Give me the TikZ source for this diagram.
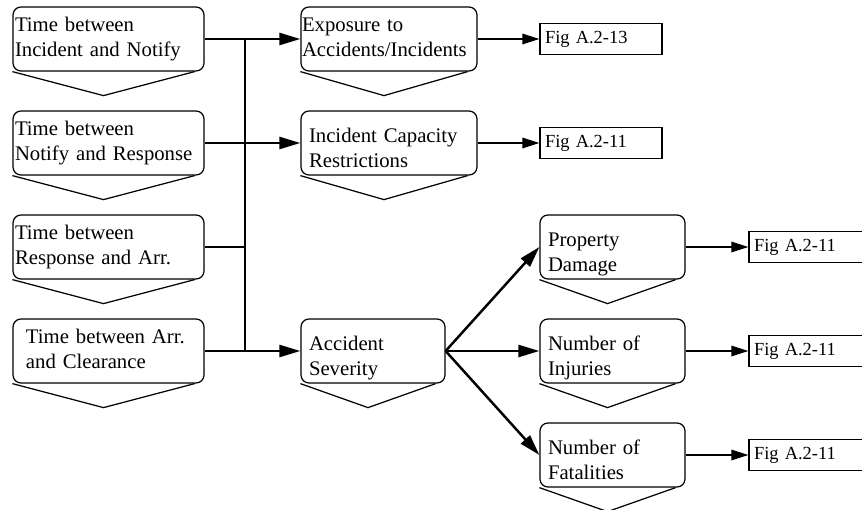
\documentclass[tikz,border=0pt]{standalone}
\usepackage{fontspec}
\setmainfont{Liberation Serif}
\usetikzlibrary{arrows.meta}

\tikzset{
  factor/.style 2 args={draw, line width=0.7pt, rounded corners=0.16cm, align=left,
    text width=#1, inner xsep=#2, inner ysep=0pt,
    text height=0.49cm, text depth=0.79cm,
    font=\fontsize{11.8}{14.2}\selectfont},
  low/.style={text height=0.63cm, text depth=0.65cm},
  figbox/.style={draw, line width=0.7pt, align=left, text width=#1, inner xsep=0.1cm,
    minimum height=0.63cm, font=\fontsize{10.5}{12}\selectfont},
  bus/.style={line width=1.4pt, -{Triangle[length=0.42cm, width=0.24cm]}},
  link/.style={line width=0.8pt, -{Triangle[length=0.34cm, width=0.21cm]}}
}

\begin{document}
\begin{tikzpicture}
\useasboundingbox (0,0) rectangle (17.24,10.18);

% Time intervals
\node[factor={3.74cm}{0.04cm}] (inc) at (2.17,9.40) {Time between\\Incident and Notify};
\node[factor={3.74cm}{0.04cm}] (ntf) at (2.17,7.32) {Time between\\Notify and Response};
\node[factor={3.74cm}{0.04cm}] (rsp) at (2.17,5.24) {Time between\\Response and Arr.};
\node[factor={3.30cm}{0.26cm}] (arr) at (2.17,3.16) {Time between Arr.\\and Clearance};

% Impacts
\node[factor={3.48cm}{0.02cm}] (expo) at (7.78,9.40) {Exposure to\\Accidents/Incidents};
\node[factor={3.20cm}{0.16cm}, low] (cap) at (7.78,7.32) {Incident Capacity\\Restrictions};
\node[factor={2.56cm}{0.16cm}, low] (sev) at (7.46,3.16) {Accident\\Severity};

% Severity outcomes
\node[factor={2.58cm}{0.16cm}, low] (prop) at (12.25,5.24) {Property\\Damage};
\node[factor={2.58cm}{0.16cm}, low] (inj) at (12.25,3.16) {Number of\\Injuries};
\node[factor={2.58cm}{0.16cm}, low] (fat) at (12.25,1.08) {Number of\\Fatalities};

% Figure references
\node[figbox=2.24cm] (f13) at (12.02,9.40) {Fig A.2-13};
\node[figbox=2.24cm] (f11) at (12.02,7.32) {Fig A.2-11};
\node[figbox=2.12cm] (fprop) at (16.14,5.24) {Fig A.2-11};
\node[figbox=2.12cm] (finj) at (16.14,3.16) {Fig A.2-11};
\node[figbox=2.12cm] (ffat) at (16.14,1.08) {Fig A.2-11};

% chevrons under the boxes
\foreach \n in {inc,ntf,rsp,arr,expo,cap,sev,prop,inj,fat} {
    \draw[line width=0.7pt] (\n.south west) -- ([xshift=-0.1cm, yshift=-0.48cm]\n.south)
        -- ([xshift=-0.2cm]\n.south east);
}

% collector line
\coordinate (trunk) at (4.90,0);
\foreach \n in {ntf,rsp} {
    \draw[line width=1.4pt] (\n.east) -- (\n.east -| trunk);
}
\draw[line width=1.4pt] (inc.east -| trunk) -- (arr.east -| trunk);
\draw[bus] (inc) -- (expo);
\draw[bus] (ntf.east -| trunk) -- (cap);
\draw[bus] (arr) -- (sev);

% severity fan-out
\foreach \n in {prop,inj,fat} {
    \draw[bus] (sev.east) -- (\n.west);
}

% to figures
\draw[link] (expo) -- (f13);
\draw[link] (cap) -- (f11);
\draw[link] (prop) -- (fprop);
\draw[link] (inj) -- (finj);
\draw[link] (fat) -- (ffat);

\end{tikzpicture}
\end{document}
